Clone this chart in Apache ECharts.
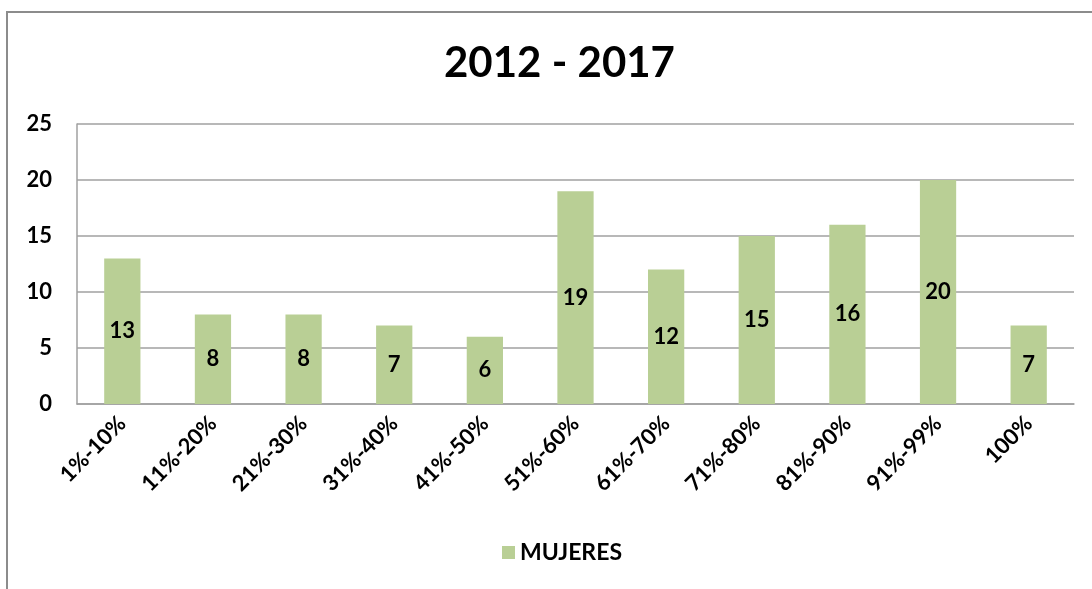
<!DOCTYPE html>
<html>
<head>
<meta charset="utf-8">
<title>2012 - 2017</title>
<script src="https://cdn.jsdelivr.net/npm/echarts@6/dist/echarts.min.js"></script>
<style>
  html, body { margin: 0; padding: 0; background: #fff; }
  #chart { width: 1092px; height: 589px; }
</style>
</head>
<body>
<div id="chart"></div>
<script>
// categorías (rangos de porcentaje)
var categories = ['1%-10%', '11%-20%', '21%-30%', '31%-40%', '41%-50%', '51%-60%',
  '61%-70%', '71%-80%', '81%-90%', '91%-99%', '100%'];
// valores de la serie MUJERES
var mujeres = [13, 8, 8, 7, 6, 19, 12, 15, 16, 20, 7];
// marcas del eje y
var yTicks = [0, 5, 10, 15, 20, 25];

var font = 'Lato, "Open Sans", sans-serif';
var chart = echarts.init(document.getElementById('chart'));

chart.setOption({
  animation: false,
  // marco exterior del gráfico
  graphic: [{
    type: 'rect',
    shape: { x: 7, y: 12, width: 1200, height: 700 },
    style: { fill: 'none', stroke: '#8c8c8c', lineWidth: 2 },
    silent: true
  }],
  title: {
    text: '2012 - 2017',
    left: 439,
    top: 37,
    textStyle: { fontFamily: font, fontSize: 42, fontWeight: 'bold', color: '#000' }
  },
  legend: {
    bottom: 20,
    left: 497,
    itemWidth: 13,
    itemHeight: 13,
    itemGap: 8,
    icon: 'rect',
    data: ['MUJERES'],
    textStyle: { fontFamily: font, fontSize: 23, fontWeight: 'bold', color: '#000' }
  },
  grid: { left: 77, right: 18, top: 124, bottom: 185 },
  xAxis: {
    type: 'category',
    data: categories,
    axisLine: { lineStyle: { color: '#a0a0a0', width: 1.5 } },
    axisTick: { show: false },
    axisLabel: {
      rotate: 45,
      margin: 16,
      fontFamily: font,
      fontSize: 22,
      fontWeight: 'bold',
      color: '#000'
    }
  },
  yAxis: {
    type: 'value',
    min: yTicks[0],
    max: yTicks[yTicks.length - 1],
    interval: 5,
    axisLine: { show: true, lineStyle: { color: '#a0a0a0', width: 1.5 } },
    axisTick: { show: false },
    splitLine: { lineStyle: { color: '#a0a0a0', width: 1.5 } },
    axisLabel: {
      margin: 25,
      fontFamily: font,
      fontSize: 22,
      fontWeight: 'bold',
      color: '#000'
    }
  },
  series: [{
    name: 'MUJERES',
    type: 'bar',
    data: mujeres,
    barWidth: '40%',
    itemStyle: { color: '#b9cf95' },
    label: {
      show: true,
      position: 'inside',
      fontFamily: font,
      fontSize: 22,
      fontWeight: 'bold',
      color: '#000'
    }
  }]
});
</script>
</body>
</html>
